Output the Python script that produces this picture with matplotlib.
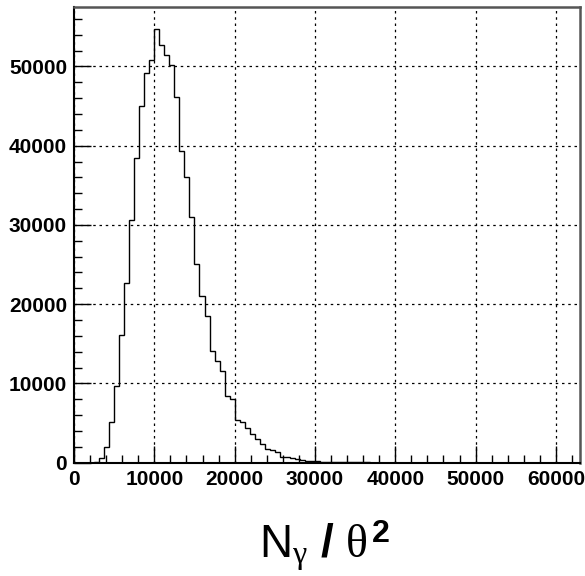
import matplotlib
matplotlib.use("Agg")
import matplotlib.pyplot as plt
import numpy as np

# histogram: bin width 625, counts per bin
bin_width = 625
counts = [
    0, 0, 0, 0, 50, 630, 1940, 5140, 9640, 16150,
    22640, 30630, 38410, 45010, 49140, 50810, 54720, 52700, 51480, 50140,
    46110, 39330, 36090, 30970, 25070, 21000, 18510, 14090, 12830, 11570,
    8450, 8000, 5390, 5140, 4420, 3620, 2950, 2400, 1690, 1600,
    1390, 760, 680, 550, 430, 340, 270, 200, 160, 130,
    110, 90, 80, 70, 60, 50, 40, 35, 30, 25,
    20, 15, 0, 0, 0, 0, 0, 0, 0, 0,
    0, 0, 0, 0, 0, 0, 0, 0, 0, 0,
    0, 0, 0, 0, 0, 0, 0, 0, 0, 0,
    0, 0, 0, 0, 0, 0, 0, 0, 0, 0,
]
edges = np.arange(len(counts) + 1) * bin_width

x_ticks = [0, 10000, 20000, 30000, 40000, 50000, 60000]
y_ticks = [0, 10000, 20000, 30000, 40000, 50000]

plt.rcParams["font.family"] = ["Liberation Sans", "DejaVu Sans"]
plt.rcParams["mathtext.fontset"] = "custom"
plt.rcParams["mathtext.rm"] = "Liberation Sans"
plt.rcParams["mathtext.bf"] = "Liberation Sans:bold"
plt.rcParams["mathtext.it"] = "Liberation Serif"

fig = plt.figure(figsize=(5.85, 5.76), dpi=100)
ax = fig.add_axes([74 / 585, 1 - 462.7 / 576, (580 - 74) / 585, (462.7 - 7) / 576])

ax.stairs(counts, edges, color="black", linewidth=1.0)

ax.set_xlim(0, 63000)
ax.set_ylim(0, 57500)

ax.set_xticks(x_ticks)
ax.set_yticks(y_ticks)
ax.set_xticks(np.arange(0, 63001, 2000), minor=True)
ax.set_yticks(np.arange(0, 57501, 2000), minor=True)
ax.set_xticklabels([str(v) for v in x_ticks], fontweight="bold", fontsize=15)
ax.set_yticklabels([str(v) for v in y_ticks], fontweight="bold", fontsize=15)

ax.tick_params(axis="both", which="major", direction="in", length=12, width=1, pad=5)
ax.tick_params(axis="both", which="minor", direction="in", length=6, width=1)

ax.grid(True, which="major", color="black", linestyle=(0, (2, 3)), linewidth=0.9)

for side in ["left", "bottom"]:
    ax.spines[side].set_color("black")
    ax.spines[side].set_linewidth(1.5)
for side in ["top", "right"]:
    ax.spines[side].set_color("#555555")
    ax.spines[side].set_linewidth(1.8)

fig.text(324 / 585, 1 - 558 / 576, r"N$_{\gamma}$ $\mathbf{/}$ $\theta^{\mathbf{2}}$",
         ha="center", va="baseline", fontsize=33)

fig.savefig("out.png", dpi=100)
